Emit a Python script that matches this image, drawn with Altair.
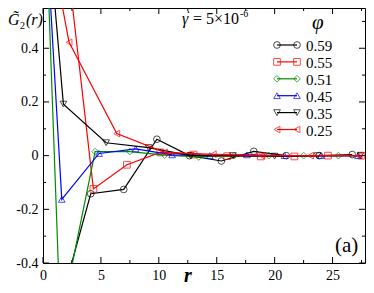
import altair as alt
import pandas as pd

# ---------------- data ----------------
phis = ["0.59", "0.55", "0.51", "0.45", "0.35", "0.25"]
colors = ["#000000", "#ff0000", "#008b00", "#0000ff", "#000000", "#ff0000"]
shapes = ["circle", "square", "diamond", "triangle-up", "triangle-down", "triangle-left"]

r_059 = [1.27, 4.12, 6.97, 9.83, 12.65, 15.4, 18.2, 21.0, 23.85, 26.7]
g_059 = [-0.59, -0.142, -0.126, 0.061, 0.0, -0.02, 0.016, 0.0, 0.0, 0.004]

r_055 = [1.45, 4.35, 7.24, 10.13, 13.0, 15.9, 18.8, 21.7, 24.6, 27.5]
g_055 = [0.97, -0.124, -0.034, 0.012, 0.004, -0.002, -0.003, -0.003, 0.0, 0.0]

r_051 = [0.3, 1.5, 4.5, 7.5, 10.5, 13.45, 16.5, 19.5, 22.5, 25.5]
g_051 = [0.81, -0.62, 0.015, 0.015, 0.002, -0.005, 0.0, 0.0, 0.0, 0.0]

r_045 = [0.4, 1.62, 4.84, 8.0, 11.15, 14.4, 17.6, 20.85, 24.0, 27.2]
g_045 = [0.75, -0.163, 0.008, 0.025, 0.003, 0.0, 0.003, 0.0, 0.0, 0.0]

r_035 = [0.6, 1.76, 5.45, 9.1, 12.75, 16.4, 20.0, 23.7, 27.4]
g_035 = [0.77, 0.192, 0.048, 0.03, 0.0, 0.0, -0.002, 0.0, 0.0]

r_025 = [1.0, 2.25, 6.37, 10.5, 14.7, 18.9, 23.1, 27.3]
g_025 = [0.71, 0.422, 0.082, 0.012, 0.005, 0.0, 0.0, 0.0]

series_r = [r_059, r_055, r_051, r_045, r_035, r_025]
series_g = [g_059, g_055, g_051, g_045, g_035, g_025]

x_major = [0, 5, 10, 15, 20, 25]
x_minor = [2.5, 7.5, 12.5, 17.5, 22.5, 27.5]
y_major = [-0.4, -0.2, 0, 0.2, 0.4]
y_minor = [-0.3, -0.1, 0.1, 0.3, 0.5]

x_domain = [0, 27.8]
y_domain = [-0.4, 0.55]

ylabel_main = ["G\u0303"]
ylabel_sub = ["2"]
ylabel_arg = ["(r)"]
rate_sym = ["\u03b3"]
rate_val = ["= 5\u00d710"]
rate_exp = ["-6"]
phi_title = ["\u03c6"]
panel_tag = ["(a)"]
xlabel = ["r"]

# ---------------- layout ----------------
W, H = 322, 255
SERIF = "Liberation Serif"

xs = alt.Scale(domain=x_domain, nice=False, zero=False)
ys = alt.Scale(domain=y_domain, nice=False, zero=False)

x_axis = alt.Axis(values=x_major, ticks=False, tickSize=0, domain=False, grid=False,
                  labelFont=SERIF, labelFontSize=14, labelColor="black", labelPadding=5,
                  title=None, labelFlush=False)
y_axis = alt.Axis(values=y_major, ticks=False, tickSize=0, domain=False, grid=False,
                  labelFont=SERIF, labelFontSize=14, labelColor="black", labelPadding=5,
                  title=None,
                  labelExpr="datum.value == 0 ? '0' : replace(format(datum.value, '.1f'), '\u2212', '-')")

layers = []

# axes carrier (invisible)
base_df = pd.DataFrame({"r": x_domain, "g": y_domain})
layers.append(alt.Chart(base_df).mark_point(opacity=0).encode(
    x=alt.X("r:Q", scale=xs, axis=x_axis),
    y=alt.Y("g:Q", scale=ys, axis=y_axis)))

# inward ticks on all four sides
def xticks(vals, length):
    d = pd.DataFrame({"v": vals})
    b = alt.Chart(d).mark_rule(color="black", strokeWidth=1)
    return [
        b.encode(x=alt.X("v:Q", scale=xs), y=alt.value(H), y2=alt.value(H - length)),
        b.encode(x=alt.X("v:Q", scale=xs), y=alt.value(0), y2=alt.value(length)),
    ]

def yticks(vals, length):
    d = pd.DataFrame({"v": vals})
    b = alt.Chart(d).mark_rule(color="black", strokeWidth=1)
    return [
        b.encode(y=alt.Y("v:Q", scale=ys), x=alt.value(0), x2=alt.value(length)),
        b.encode(y=alt.Y("v:Q", scale=ys), x=alt.value(W), x2=alt.value(W - length)),
    ]

layers += xticks(x_major, 6) + xticks(x_minor, 3) + yticks(y_major, 6) + yticks(y_minor, 3)

# data series
for i, phi in enumerate(phis):
    df = pd.DataFrame({"r": series_r[i], "g": series_g[i]})
    layers.append(alt.Chart(df).mark_line(color=colors[i], strokeWidth=1.2, clip=True).encode(
        x=alt.X("r:Q", scale=xs), y=alt.Y("g:Q", scale=ys)))
    layers.append(alt.Chart(df).mark_point(shape=shapes[i], color=colors[i], filled=False,
                                            size=45, strokeWidth=1, clip=True).encode(
        x=alt.X("r:Q", scale=xs), y=alt.Y("g:Q", scale=ys)))

# legend
LX0, LX1, LT, LY0, LDY = 234, 254, 263, 37, 16.9
for i, phi in enumerate(phis):
    yy = LY0 + i * LDY
    ld = pd.DataFrame({"phi": [phi]})
    layers.append(alt.Chart(ld).mark_rule(color=colors[i], strokeWidth=1.2).encode(
        x=alt.value(LX0), x2=alt.value(LX1), y=alt.value(yy)))
    for xx in (LX0, LX1):
        layers.append(alt.Chart(ld).mark_point(shape=shapes[i], color=colors[i], filled=False,
                                                size=45, strokeWidth=1).encode(
            x=alt.value(xx), y=alt.value(yy)))
    layers.append(alt.Chart(ld).mark_text(font=SERIF, fontSize=15, align="left",
                                           baseline="middle", color="black").encode(
        x=alt.value(LT), y=alt.value(yy + 1), text="phi:N"))

def txt(vals, x, y, size, style="normal", weight="normal", align="left", baseline="alphabetic"):
    d = pd.DataFrame({"t": vals})
    return alt.Chart(d).mark_text(font=SERIF, fontSize=size, fontStyle=style, fontWeight=weight,
                                  align=align, baseline=baseline, color="black").encode(
        x=alt.value(x), y=alt.value(y), text="t:N")

# dot over gamma (time derivative)
dot_df = pd.DataFrame({"k": ["dot"]})
layers.append(alt.Chart(dot_df).mark_point(shape="circle", filled=True, color="black",
                                           size=3, opacity=1).encode(
    x=alt.value(145.5), y=alt.value(4)))

layers += [
    txt(ylabel_main, -35, 17, 16, style="italic"),
    txt(ylabel_sub, -23, 21, 10),
    txt(ylabel_arg, -17, 17, 16, style="italic"),
    txt(rate_sym, 139, 16, 16, style="italic"),
    txt(rate_val, 150, 16, 16),
    txt(rate_exp, 197, 9, 10),
    txt(phi_title, 269, 21, 21, style="italic"),
    txt(panel_tag, 292, 244, 21),
    txt(xlabel, 141, 274, 20, style="italic", weight="bold"),
]

chart = alt.layer(*layers).properties(
    width=W, height=H,
    autosize=alt.AutoSizeParams(type="none"),
    padding={"left": 35, "top": 0, "right": 1, "bottom": 22},
).configure_view(stroke="black", strokeWidth=1)

chart.save("out.html", embed_options={"renderer": "svg", "actions": False})
